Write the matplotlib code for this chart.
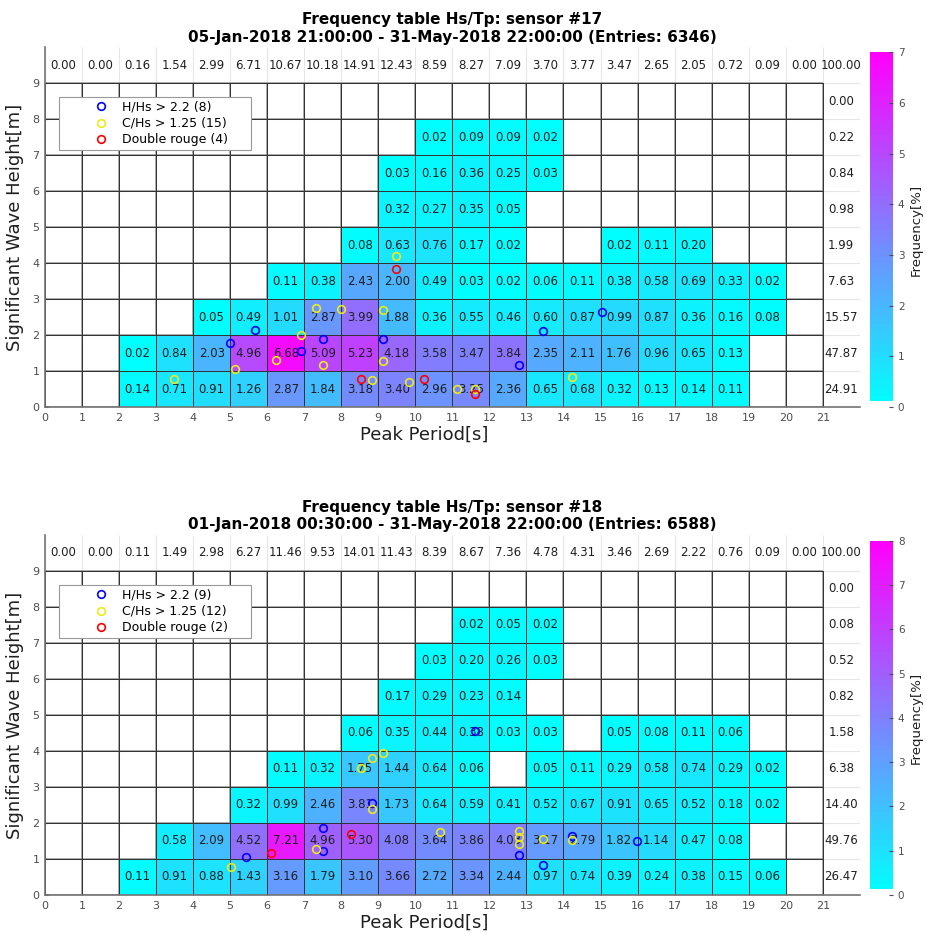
import numpy as np
import matplotlib.pyplot as plt
from matplotlib.colors import ListedColormap, Normalize
from matplotlib.cm import ScalarMappable
from matplotlib.lines import Line2D

# frequency tables [%], rows Hs 8-9 m (top) down to 0-1 m, columns Tp 0..20 s
freq17 = [
    [0, 0, 0, 0, 0, 0, 0, 0, 0, 0, 0, 0, 0, 0, 0, 0, 0, 0, 0, 0, 0],
    [0, 0, 0, 0, 0, 0, 0, 0, 0, 0, 0.02, 0.09, 0.09, 0.02, 0, 0, 0, 0, 0, 0, 0],
    [0, 0, 0, 0, 0, 0, 0, 0, 0, 0.03, 0.16, 0.36, 0.25, 0.03, 0, 0, 0, 0, 0, 0, 0],
    [0, 0, 0, 0, 0, 0, 0, 0, 0, 0.32, 0.27, 0.35, 0.05, 0, 0, 0, 0, 0, 0, 0, 0],
    [0, 0, 0, 0, 0, 0, 0, 0, 0.08, 0.63, 0.76, 0.17, 0.02, 0, 0, 0.02, 0.11, 0.20, 0, 0, 0],
    [0, 0, 0, 0, 0, 0, 0.11, 0.38, 2.43, 2.00, 0.49, 0.03, 0.02, 0.06, 0.11, 0.38, 0.58, 0.69, 0.33, 0.02, 0],
    [0, 0, 0, 0, 0.05, 0.49, 1.01, 2.87, 3.99, 1.88, 0.36, 0.55, 0.46, 0.60, 0.87, 0.99, 0.87, 0.36, 0.16, 0.08, 0],
    [0, 0, 0.02, 0.84, 2.03, 4.96, 6.68, 5.09, 5.23, 4.18, 3.58, 3.47, 3.84, 2.35, 2.11, 1.76, 0.96, 0.65, 0.13, 0, 0],
    [0, 0, 0.14, 0.71, 0.91, 1.26, 2.87, 1.84, 3.18, 3.40, 2.96, 3.25, 2.36, 0.65, 0.68, 0.32, 0.13, 0.14, 0.11, 0, 0],
]
tp_sum17 = [0.00, 0.00, 0.16, 1.54, 2.99, 6.71, 10.67, 10.18, 14.91, 12.43, 8.59,
            8.27, 7.09, 3.70, 3.77, 3.47, 2.65, 2.05, 0.72, 0.09, 0.00, 100.00]
hs_sum17 = [0.00, 0.22, 0.84, 0.98, 1.99, 7.63, 15.57, 47.87, 24.91]

freq18 = [
    [0, 0, 0, 0, 0, 0, 0, 0, 0, 0, 0, 0, 0, 0, 0, 0, 0, 0, 0, 0, 0],
    [0, 0, 0, 0, 0, 0, 0, 0, 0, 0, 0, 0.02, 0.05, 0.02, 0, 0, 0, 0, 0, 0, 0],
    [0, 0, 0, 0, 0, 0, 0, 0, 0, 0, 0.03, 0.20, 0.26, 0.03, 0, 0, 0, 0, 0, 0, 0],
    [0, 0, 0, 0, 0, 0, 0, 0, 0, 0.17, 0.29, 0.23, 0.14, 0, 0, 0, 0, 0, 0, 0, 0],
    [0, 0, 0, 0, 0, 0, 0, 0, 0.06, 0.35, 0.44, 0.38, 0.03, 0.03, 0, 0.05, 0.08, 0.11, 0.06, 0, 0],
    [0, 0, 0, 0, 0, 0, 0.11, 0.32, 1.75, 1.44, 0.64, 0.06, 0, 0.05, 0.11, 0.29, 0.58, 0.74, 0.29, 0.02, 0],
    [0, 0, 0, 0, 0, 0.32, 0.99, 2.46, 3.81, 1.73, 0.64, 0.59, 0.41, 0.52, 0.67, 0.91, 0.65, 0.52, 0.18, 0.02, 0],
    [0, 0, 0, 0.58, 2.09, 4.52, 7.21, 4.96, 5.30, 4.08, 3.64, 3.86, 4.03, 3.17, 2.79, 1.82, 1.14, 0.47, 0.08, 0, 0],
    [0, 0, 0.11, 0.91, 0.88, 1.43, 3.16, 1.79, 3.10, 3.66, 2.72, 3.34, 2.44, 0.97, 0.74, 0.39, 0.24, 0.38, 0.15, 0.06, 0],
]
tp_sum18 = [0.00, 0.00, 0.11, 1.49, 2.98, 6.27, 11.46, 9.53, 14.01, 11.43, 8.39,
            8.67, 7.36, 4.78, 4.31, 3.46, 2.69, 2.22, 0.76, 0.09, 0.00, 100.00]
hs_sum18 = [0.00, 0.08, 0.52, 0.82, 1.58, 6.38, 14.40, 49.76, 26.47]

# flagged events (Tp, Hs)
hh17_tp = [5.67, 4.99, 6.91, 7.51, 9.13, 15.04, 13.46, 12.79]
hh17_hs = [2.15, 1.79, 1.55, 1.88, 1.90, 2.63, 2.12, 1.18]
ch17_tp = [9.47, 7.31, 7.98, 9.13, 6.91, 6.23, 5.12, 7.51, 9.13, 3.49, 8.82, 9.83, 11.13, 11.61, 14.22]
ch17_hs = [4.19, 2.76, 2.72, 2.70, 2.01, 1.31, 1.07, 1.17, 1.29, 0.78, 0.76, 0.69, 0.49, 0.49, 0.83]
dr17_tp = [9.47, 8.52, 10.23, 11.62]
dr17_hs = [3.83, 0.79, 0.79, 0.35]

hh18_tp = [11.61, 8.82, 7.51, 7.51, 5.43, 12.79, 13.46, 14.22, 15.98]
hh18_hs = [4.56, 2.55, 1.87, 1.21, 1.06, 1.12, 0.83, 1.65, 1.49]
ch18_tp = [9.13, 8.82, 8.52, 8.82, 7.31, 5.01, 10.66, 12.79, 12.79, 12.79, 13.46, 14.22]
ch18_hs = [3.93, 3.81, 3.54, 2.39, 1.29, 0.78, 1.76, 1.78, 1.60, 1.42, 1.55, 1.52]
dr18_tp = [6.09, 8.25]
dr18_hs = [1.16, 1.69]

title17 = ("Frequency table Hs/Tp: sensor #17\n"
           "05-Jan-2018 21:00:00 - 31-May-2018 22:00:00 (Entries: 6346)")
title18 = ("Frequency table Hs/Tp: sensor #18\n"
           "01-Jan-2018 00:30:00 - 31-May-2018 22:00:00 (Entries: 6588)")

ntp, nhs = 21, 9
txt_col = (0.12, 0.12, 0.12)
yellow = (0.92, 0.92, 0.1)


def draw_table(ax, cax, freq, tp_sum, hs_sum, vmax, title, hh, ch, dr):
    data = np.array(freq)[::-1]
    ax.set_xlim(0, ntp + 1)
    ax.set_ylim(0, nhs + 1)

    # light grid over the whole axes, darker over the table itself
    ax.vlines(range(ntp + 1), 0, nhs + 1, color=(0.9, 0.9, 0.9), lw=0.8, zorder=0)
    ax.hlines(range(nhs + 1), 0, ntp + 1, color=(0.9, 0.9, 0.9), lw=0.8, zorder=0)
    ax.vlines(range(ntp + 1), 0, nhs, color=(0.58, 0.58, 0.58), lw=1.1, zorder=1)
    ax.hlines(range(nhs + 1), 0, ntp, color=(0.58, 0.58, 0.58), lw=1.1, zorder=1)

    ax.pcolormesh(np.arange(ntp + 1), np.arange(nhs + 1), np.ma.masked_equal(data, 0),
                  cmap='cool', vmin=0, vmax=vmax, edgecolors=(0.2, 0.2, 0.2),
                  linewidth=0.6, zorder=2)

    for j in range(nhs):
        for i in range(ntp):
            if data[j, i] > 0:
                ax.text(i + 0.5, j + 0.5, "%.2f" % data[j, i], ha='center', va='center',
                        fontsize=8.5, color=txt_col, zorder=3)
    for i, v in enumerate(tp_sum):
        ax.text(i + 0.5, nhs + 0.5, "%.2f" % v, ha='center', va='center',
                fontsize=8.5, color=txt_col)
    for j, v in enumerate(hs_sum):
        ax.text(ntp + 0.5, nhs - j - 0.5, "%.2f" % v, ha='center', va='center',
                fontsize=8.5, color=txt_col)

    mk = dict(ls='none', marker='o', ms=5.5, mew=1.2, mfc='none', zorder=5)
    ax.plot(hh[0], hh[1], mec='blue', **mk)
    ax.plot(ch[0], ch[1], mec=yellow, **mk)
    ax.plot(dr[0], dr[1], mec='red', **mk)

    handles = [Line2D([], [], mec='blue', **mk),
               Line2D([], [], mec=yellow, **mk),
               Line2D([], [], mec='red', **mk)]
    labels = ["H/Hs > 2.2 (%d)" % len(hh[0]),
              "C/Hs > 1.25 (%d)" % len(ch[0]),
              "Double rouge (%d)" % len(dr[0])]
    leg = ax.legend(handles, labels, loc='upper left', bbox_to_anchor=(0.017, 0.0, 0.236, 0.861),
                    mode='expand', fontsize=9, fancybox=False, framealpha=1,
                    edgecolor=(0.6, 0.6, 0.6), borderpad=0.3, labelspacing=0.25,
                    handlelength=6.2, handletextpad=-1.45, borderaxespad=0)
    leg.get_frame().set_linewidth(0.8)
    leg.set_zorder(6)

    ax.set_xticks(range(ntp + 1))
    ax.set_yticks(range(nhs + 1))
    ax.tick_params(direction='in', length=2, labelsize=8, colors=(0.3, 0.3, 0.3), pad=4)
    for s in ['top', 'right']:
        ax.spines[s].set_visible(False)
    for s in ['left', 'bottom']:
        ax.spines[s].set_color((0.45, 0.45, 0.45))
        ax.spines[s].set_linewidth(1.2)
    ax.set_xlabel("Peak Period[s]", fontsize=13, color=txt_col)
    ax.xaxis.set_label_coords(0.466, -0.052)
    ax.set_ylabel("Significant Wave Height[m]", fontsize=13, color=txt_col, labelpad=6)
    ax.set_title(title, fontsize=11, fontweight='bold', pad=4)

    # colour bar: cool map with a white bottom entry for zero
    cols = plt.get_cmap('cool')(np.linspace(0, 1, 64))
    cols[0] = [1, 1, 1, 1]
    sm = ScalarMappable(Normalize(0, vmax), ListedColormap(cols))
    cb = plt.colorbar(sm, cax=cax, ticks=range(vmax + 1))
    cb.outline.set_visible(False)
    cb.ax.tick_params(direction='in', length=3, labelsize=7.5, colors=(0.3, 0.3, 0.3))
    cb.set_label("Frequency[%]", fontsize=9.5, color=txt_col, labelpad=4)


fig = plt.figure(figsize=(9.27, 9.34), dpi=100)
ax1 = fig.add_axes([0.0485, 0.5642, 0.879, 0.3854])
cax1 = fig.add_axes([0.9385, 0.5642, 0.0248, 0.380])
ax2 = fig.add_axes([0.0485, 0.0418, 0.879, 0.3854])
cax2 = fig.add_axes([0.9385, 0.0418, 0.0248, 0.379])

draw_table(ax1, cax1, freq17, tp_sum17, hs_sum17, 7, title17,
           (hh17_tp, hh17_hs), (ch17_tp, ch17_hs), (dr17_tp, dr17_hs))
draw_table(ax2, cax2, freq18, tp_sum18, hs_sum18, 8, title18,
           (hh18_tp, hh18_hs), (ch18_tp, ch18_hs), (dr18_tp, dr18_hs))

fig.savefig("out.png", dpi=100)
